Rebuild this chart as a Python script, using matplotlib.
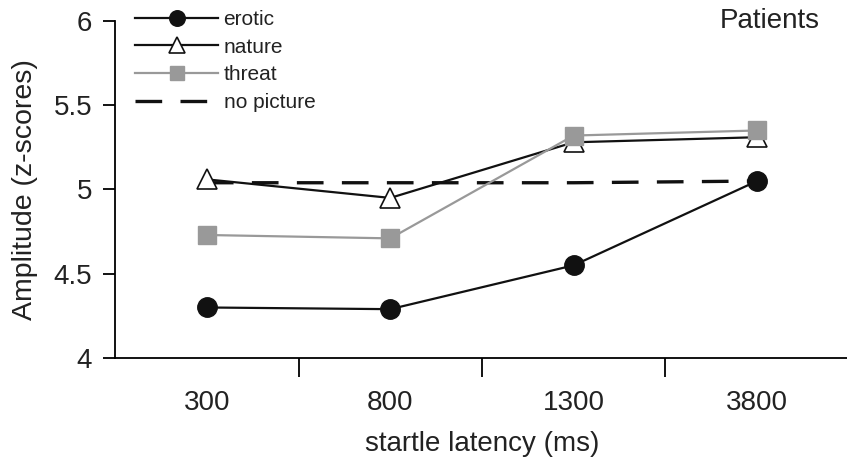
import matplotlib
matplotlib.use('Agg')
import matplotlib.pyplot as plt

plt.rcParams['font.family'] = ['Liberation Sans', 'DejaVu Sans']

latencias = ['300', '800', '1300', '3800']
erotic = [4.30, 4.29, 4.55, 5.05]
nature = [5.06, 4.95, 5.28, 5.31]
threat = [4.73, 4.71, 5.32, 5.35]
no_picture = [5.04, 5.04, 5.04, 5.05]

fig = plt.figure(figsize=(8.47, 4.65), dpi=100)
ax = fig.add_axes([0.136, 0.230, 0.866, 0.725])

x = range(len(latencias))
ax.plot(x, no_picture, color='#111111', lw=2.4, dashes=(8, 5.5), label='no picture', zorder=2)
ax.plot(x, erotic, color='#111111', lw=1.6, marker='o', ms=14, mfc='#111111', mec='#111111',
        label='erotic', zorder=3)
ax.plot(x, nature, color='#111111', lw=1.6, marker='^', ms=15, mfc='white', mec='#111111',
        mew=1.2, label='nature', zorder=3)
ax.plot(x, threat, color='#999999', lw=1.6, marker='s', ms=13, mfc='#999999', mec='#999999',
        label='threat', zorder=4)

ax.set_xlim(-0.5, 3.5)
ax.set_ylim(4, 6)
ax.set_yticks([4, 4.5, 5, 5.5, 6])
ax.set_yticklabels(['4', '4.5', '5', '5.5', '6'])
ax.set_xticks([0.5, 1.5, 2.5])
ax.set_xticklabels([])
ax.set_xticks(list(x), minor=True)
ax.set_xticklabels(latencias, minor=True)
ax.tick_params(axis='x', which='minor', length=0, pad=23, labelsize=20, colors='#222222')
ax.tick_params(axis='x', which='major', length=14, width=1.3, direction='out')
ax.tick_params(axis='y', length=8.5, width=1.3, labelsize=20, pad=8, labelcolor='#222222')

for lado in ['top', 'right']:
    ax.spines[lado].set_visible(False)
for lado in ['left', 'bottom']:
    ax.spines[lado].set_linewidth(1.3)

ax.set_xlabel('startle latency (ms)', fontsize=20, labelpad=11, color='#222222')
ax.set_ylabel('Amplitude (z-scores)', fontsize=20.5, labelpad=11, color='#222222')

ax.text(0.961, 1.0, 'Patients', transform=ax.transAxes, fontsize=20, ha='right', va='center',
        color='#222222')

handles, labels = ax.get_legend_handles_labels()
orden = [1, 2, 3, 0]
leg = ax.legend([handles[i] for i in orden], [labels[i] for i in orden],
                loc='upper left', bbox_to_anchor=(0.01, 1.07), frameon=False,
                fontsize=15, handlelength=4, handletextpad=0.25, labelspacing=0.42,
                markerscale=0.8, borderaxespad=0.2)
for t in leg.get_texts():
    t.set_color('#222222')

fig.savefig('out.png', dpi=100)
